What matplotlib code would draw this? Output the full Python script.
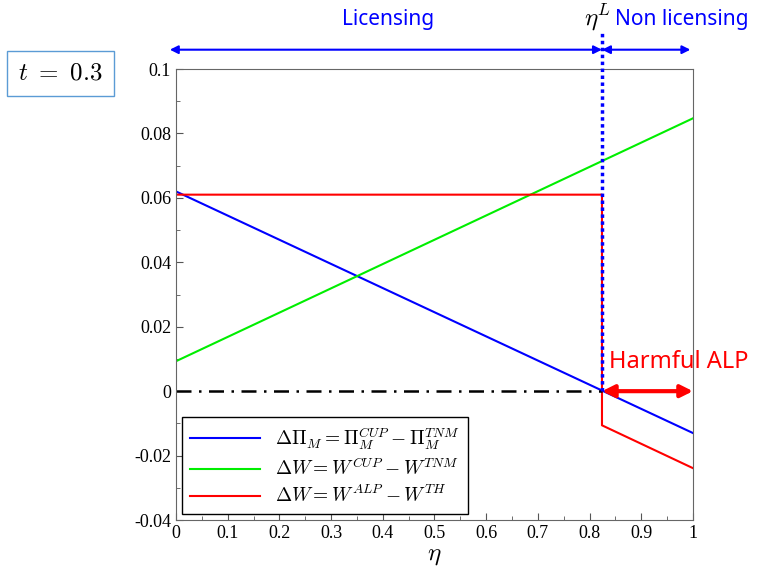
import numpy as np
import matplotlib.pyplot as plt
from matplotlib.ticker import MultipleLocator

# data
eta_l = 0.824
eta_full = [0.0, 1.0]
d_profit = [0.062, -0.013]          # blue
d_welfare_cup = [0.0093, 0.0847]    # green
eta_red = [0.0, eta_l, eta_l, eta_l, 1.0]
d_welfare_alp = [0.061, 0.061, 0.0, -0.0106, -0.0239]   # red

xticks = [0, 0.1, 0.2, 0.3, 0.4, 0.5, 0.6, 0.7, 0.8, 0.9, 1]
xticklabels = ['0', '0.1', '0.2', '0.3', '0.4', '0.5', '0.6', '0.7', '0.8', '0.9', '1']
yticks = [-0.04, -0.02, 0, 0.02, 0.04, 0.06, 0.08, 0.1]
yticklabels = ['-0.04', '-0.02', '0', '0.02', '0.04', '0.06', '0.08', '0.1']

plt.rcParams['mathtext.fontset'] = 'cm'
plt.rcParams['font.family'] = 'Liberation Serif'
sans = 'Noto Sans'

fig = plt.figure(figsize=(7.61, 5.8), dpi=100)
ax = fig.add_axes([0.2313, 0.1034, 0.6793, 0.7776])

ax.plot(eta_full, d_profit, color='#0000ff', lw=1.5,
        label=r'$\Delta\Pi_M = \Pi_M^{CUP} - \Pi_M^{TNM}$')
ax.plot(eta_full, d_welfare_cup, color='#00ee00', lw=1.5,
        label=r'$\Delta W = W^{CUP} - W^{TNM}$')
ax.plot(eta_red, d_welfare_alp, color='#ff0000', lw=1.5,
        label=r'$\Delta W = W^{ALP} - W^{TH}$')

# zero line up to eta^L
ax.plot([0, eta_l], [0, 0], color='black', lw=1.8, ls=(0, (6, 3, 1, 3)))

# vertical dotted line at eta^L, extending above the axes
ax.plot([eta_l, eta_l], [0, 0.1115], color='#0000ff', lw=2.5, ls=(0, (1, 1)),
        clip_on=False, zorder=5)

# harmful ALP arrow
ax.annotate('', xy=(1.0, 0), xytext=(eta_l, 0),
            arrowprops=dict(arrowstyle='<|-|>', color='#ff0000', lw=3,
                            mutation_scale=18, shrinkA=0, shrinkB=0))
ax.text(0.972, 0.0092, 'Harmful ALP', color='#ff0000', fontsize=17,
        ha='center', va='center', family=sans, clip_on=False)

# licensing arrows above the axes
ya = 0.106
ax.annotate('', xy=(-0.012, ya), xytext=(eta_l, ya), annotation_clip=False,
            arrowprops=dict(arrowstyle='<|-|>', color='#0000ff', lw=1.5,
                            mutation_scale=12, shrinkA=0, shrinkB=0))
ax.annotate('', xy=(eta_l, ya), xytext=(0.995, ya), annotation_clip=False,
            arrowprops=dict(arrowstyle='<|-|>', color='#0000ff', lw=1.5,
                            mutation_scale=12, shrinkA=0, shrinkB=0))
ax.text(0.41, 0.1155, 'Licensing', color='#0000ff', fontsize=15,
        ha='center', va='center', family=sans)
ax.text(0.85, 0.1155, 'Non licensing', color='#0000ff', fontsize=15,
        ha='left', va='center', family=sans)
ax.text(0.815, 0.116, r'$\eta^L$', color='black', fontsize=18,
        ha='center', va='center')

fig.text(0.079, 0.873, r'$t\ =\ 0.3$', fontsize=18, ha='center', va='center',
         bbox=dict(boxstyle='square,pad=0.45', fc='white', ec='#5b9bd5', lw=1))

ax.set_xlim(0, 1)
ax.set_ylim(-0.04, 0.1)
ax.set_xticks(xticks, labels=xticklabels, fontsize=13)
ax.set_yticks(yticks, labels=yticklabels, fontsize=13)
ax.xaxis.set_minor_locator(MultipleLocator(0.05))
ax.yaxis.set_minor_locator(MultipleLocator(0.01))
ax.tick_params(which='both', direction='in', color='#555555')
ax.tick_params(which='major', length=5)
ax.tick_params(which='minor', length=3)
for s in ax.spines.values():
    s.set_color('#666666')
ax.set_xlabel(r'$\eta$', fontsize=18, labelpad=2)

leg = ax.legend(loc='lower left', fontsize=14, fancybox=False, edgecolor='black',
                handlelength=3.6, borderaxespad=0.3, framealpha=1,
                labelspacing=0.3, borderpad=0.4)
leg.get_frame().set_linewidth(1.0)

fig.savefig('out.png', dpi=100)
